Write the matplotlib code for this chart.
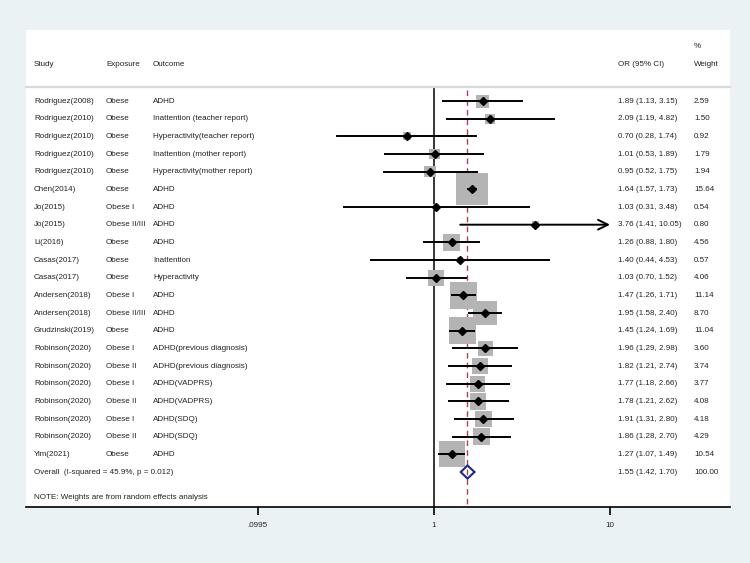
import matplotlib
matplotlib.use('Agg')
import matplotlib.pyplot as plt
from matplotlib.patches import Polygon
from matplotlib.transforms import blended_transform_factory

plt.rcParams['font.family'] = ['Liberation Sans', 'DejaVu Sans']

studies = ['Rodriguez(2008)', 'Rodriguez(2010)', 'Rodriguez(2010)', 'Rodriguez(2010)', 'Rodriguez(2010)',
           'Chen(2014)', 'Jo(2015)', 'Jo(2015)', 'Li(2016)', 'Casas(2017)', 'Casas(2017)',
           'Andersen(2018)', 'Andersen(2018)', 'Grudzinski(2019)', 'Robinson(2020)', 'Robinson(2020)',
           'Robinson(2020)', 'Robinson(2020)', 'Robinson(2020)', 'Robinson(2020)', 'Yim(2021)']
exposure = ['Obese', 'Obese', 'Obese', 'Obese', 'Obese', 'Obese', 'Obese I', 'Obese II/III', 'Obese',
            'Obese', 'Obese', 'Obese I', 'Obese II/III', 'Obese', 'Obese I', 'Obese II', 'Obese I',
            'Obese II', 'Obese I', 'Obese II', 'Obese']
outcome = ['ADHD', 'Inattention (teacher report)', 'Hyperactivity(teacher report)',
           'Inattention (mother report)', 'Hyperactivity(mother report)', 'ADHD', 'ADHD', 'ADHD', 'ADHD',
           'Inattention', 'Hyperactivity', 'ADHD', 'ADHD', 'ADHD', 'ADHD(previous diagnosis)',
           'ADHD(previous diagnosis)', 'ADHD(VADPRS)', 'ADHD(VADPRS)', 'ADHD(SDQ)', 'ADHD(SDQ)', 'ADHD']
or_est = [1.89, 2.09, 0.70, 1.01, 0.95, 1.64, 1.03, 3.76, 1.26, 1.40, 1.03, 1.47, 1.95, 1.45,
          1.96, 1.82, 1.77, 1.78, 1.91, 1.86, 1.27]
ci_lo = [1.13, 1.19, 0.28, 0.53, 0.52, 1.57, 0.31, 1.41, 0.88, 0.44, 0.70, 1.26, 1.58, 1.24,
         1.29, 1.21, 1.18, 1.21, 1.31, 1.28, 1.07]
ci_hi = [3.15, 4.82, 1.74, 1.89, 1.75, 1.73, 3.48, 10.05, 1.80, 4.53, 1.52, 1.71, 2.40, 1.69,
         2.98, 2.74, 2.66, 2.62, 2.80, 2.70, 1.49]
weight = [2.59, 1.50, 0.92, 1.79, 1.94, 15.64, 0.54, 0.80, 4.56, 0.57, 4.06, 11.14, 8.70, 11.04,
          3.60, 3.74, 3.77, 4.08, 4.18, 4.29, 10.54]
overall = [1.55, 1.42, 1.70]
overall_label = 'Overall  (I-squared = 45.9%, p = 0.012)'
note = 'NOTE: Weights are from random effects analysis'
tick_vals = [0.0995, 1, 10]
tick_labels = ['.0995', '1', '10']
x_clip = 10

fs = 5.8
txt_col = '#222222'
bg = '#eaf2f3'

fig = plt.figure(figsize=(7.5, 5.63), dpi=100, facecolor=bg)
ax = fig.add_axes([26 / 750, 56 / 563, 704 / 750, 477 / 563])
ax.set_facecolor('white')
ax.set_xscale('log')
ax.set_xlim(10 ** -2.318, 10 ** 1.682)
ax.set_ylim(22.98, -4.02)

for s in ['top', 'left', 'right']:
    ax.spines[s].set_visible(False)
ax.spines['bottom'].set_linewidth(1.2)
ax.set_yticks([])
ax.set_xticks(tick_vals)
ax.set_xticklabels(tick_labels, fontsize=fs, color=txt_col)
ax.minorticks_off()
ax.tick_params(axis='x', direction='out', length=5.5, width=1.2, pad=5)

n = len(studies)
rows = list(range(n))

# lignes verticales (nul et effet global)
ax.plot([1, 1], [-0.79, 22.98], color='black', lw=1.1, zorder=1)
ax.plot([overall[0], overall[0]], [-0.6, 22.98], color='#b04050', lw=1.0,
        linestyle=(0, (4, 3)), zorder=1)

# carres des poids (aire proportionnelle au poids)
ax.scatter(or_est, rows, s=[34 * w for w in weight], marker='s', color='#b4b4b4',
           linewidths=0, zorder=2)

for i in rows:
    if ci_hi[i] > x_clip:
        ax.annotate('', xy=(x_clip, i), xytext=(ci_lo[i], i),
                    arrowprops=dict(arrowstyle='->,head_length=0.7,head_width=0.35',
                                    lw=1.4, color='black', shrinkA=0, shrinkB=0), zorder=3)
    else:
        ax.plot([ci_lo[i], ci_hi[i]], [i, i], color='black', lw=1.4, zorder=3)
ax.plot(or_est, rows, linestyle='none', marker='D', markersize=3.8, color='black', zorder=4)

# losange global
yo = n
h = 0.37
diamond = Polygon([[overall[1], yo], [overall[0], yo - h], [overall[2], yo], [overall[0], yo + h]],
                  closed=True, fill=False, edgecolor='#1c2a80', lw=1.5, zorder=4)
ax.add_patch(diamond)

# texte des colonnes
tr = blended_transform_factory(ax.transAxes, ax.transData)
col_x = [(34 - 26) / 704, (106 - 26) / 704, (153 - 26) / 704, (618 - 26) / 704, (694 - 26) / 704]

def put(col, y, s):
    ax.text(col_x[col], y, s, transform=tr, fontsize=fs, va='center', color=txt_col)

put(0, -2.04, 'Study')
put(1, -2.04, 'Exposure')
put(2, -2.04, 'Outcome')
put(3, -2.04, 'OR (95% CI)')
put(4, -3.06, '%')
put(4, -2.04, 'Weight')
ax.plot([0, 1], [-0.79, -0.79], transform=tr, color='#d9d9d9', lw=1.6, clip_on=False)

for i in rows:
    put(0, i, studies[i])
    put(1, i, exposure[i])
    put(2, i, outcome[i])
    put(3, i, '%.2f (%.2f, %.2f)' % (or_est[i], ci_lo[i], ci_hi[i]))
    put(4, i, '%.2f' % weight[i])

put(0, yo, overall_label)
put(3, yo, '%.2f (%.2f, %.2f)' % tuple(overall))
put(4, yo, '100.00')
put(0, 22.47, note)

fig.savefig('out.png', dpi=100, facecolor=bg)
